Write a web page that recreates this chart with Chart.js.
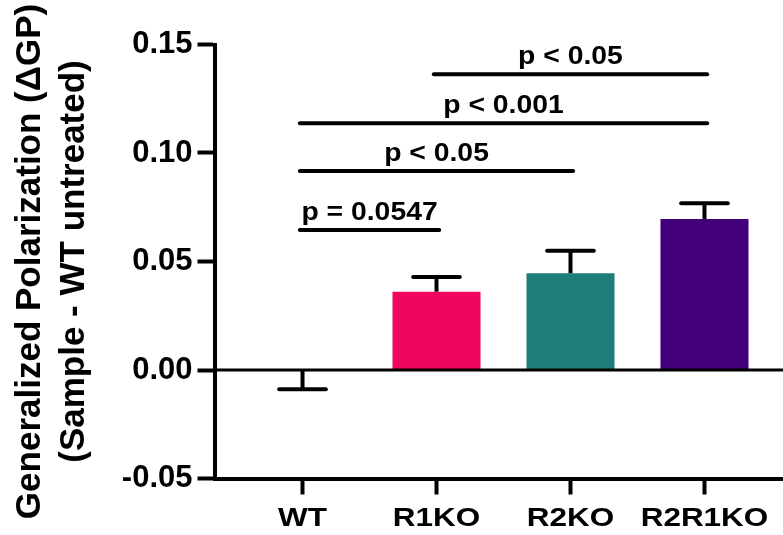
<!DOCTYPE html>
<html><head><meta charset="utf-8">
<script src="https://cdn.jsdelivr.net/npm/chart.js@4"></script>
<style>html,body{margin:0;padding:0;background:#fff;}canvas{display:block}</style>
</head><body>
<canvas id="c" width="783" height="535"></canvas>
<script>
const categories = ['WT', 'R1KO', 'R2KO', 'R2R1KO'];
const means = [0, 0.0361, 0.0446, 0.0696];
const sems = [0.0089, 0.0068, 0.0104, 0.0072];
const barColors = ['#FFFFFF', '#F0055F', '#1F7E7B', '#41007A'];
const yTicks = [-0.05, 0, 0.05, 0.10, 0.15];
const sigFrom = [0, 0, 0, 1];
const sigTo = [1, 2, 3, 3];
const sigY = [0.0645, 0.0917, 0.1137, 0.1363];
const sigLabels = ['p = 0.0547', 'p < 0.05', 'p < 0.001', 'p < 0.05'];
const yTitle = ['Generalized Polarization (\u0394GP)', '(Sample - WT untreated)'];

const FONT = '"Liberation Sans", Arial, Helvetica, sans-serif';

function stretchText(ctx, text, x, y, size, sx) {
  ctx.save();
  ctx.font = 'bold ' + size + 'px ' + FONT;
  ctx.translate(x, y);
  ctx.scale(sx, 1);
  ctx.textAlign = 'center';
  ctx.textBaseline = 'alphabetic';
  ctx.fillStyle = '#000';
  ctx.fillText(text, 0, 0);
  ctx.restore();
}

const overlay = {
  id: 'overlay',
  afterDatasetsDraw(chart) {
    const { ctx, chartArea, scales } = chart;
    const xs = scales.x, ys = scales.y;
    ctx.save();
    // zero line
    const y0 = ys.getPixelForValue(0);
    ctx.strokeStyle = '#000';
    ctx.lineWidth = 3;
    ctx.lineCap = 'butt';
    ctx.beginPath();
    ctx.moveTo(chartArea.left, y0);
    ctx.lineTo(chartArea.right, y0);
    ctx.stroke();
    // error bars
    const meta = chart.getDatasetMeta(0);
    ctx.lineWidth = 4;
    meta.data.forEach((bar, i) => {
      const dir = means[i] > 0 ? 1 : -1;
      const yA = ys.getPixelForValue(means[i]);
      const yB = ys.getPixelForValue(means[i] + dir * sems[i]);
      const cx = bar.x;
      const hw = bar.width * 0.265;
      ctx.lineCap = 'butt';
      ctx.beginPath(); ctx.moveTo(cx, yA); ctx.lineTo(cx, yB); ctx.stroke();
      ctx.lineCap = 'round';
      ctx.beginPath(); ctx.moveTo(cx - hw, yB); ctx.lineTo(cx + hw, yB); ctx.stroke();
    });
    // significance brackets
    ctx.lineWidth = 4;
    ctx.lineCap = 'round';
    sigLabels.forEach((lab, i) => {
      const xa = xs.getPixelForValue(sigFrom[i] - 0.02);
      const xb = xs.getPixelForValue(sigTo[i] + 0.02);
      const yy = ys.getPixelForValue(sigY[i]);
      ctx.beginPath(); ctx.moveTo(xa, yy); ctx.lineTo(xb, yy); ctx.stroke();
      stretchText(ctx, lab, (xa + xb) / 2, yy - 10.5, 26, 1.09);
    });
    // category labels
    categories.forEach((c, i) => {
      stretchText(ctx, c, xs.getPixelForValue(i), xs.bottom - 9, 26, 1.21);
    });
    ctx.restore();
  }
};

new Chart(document.getElementById('c'), {
  type: 'bar',
  data: {
    datasets: [{
      data: means.map((m, i) => ({ x: i, y: m })),
      backgroundColor: barColors,
      borderWidth: 0,
      barPercentage: 0.657,
      categoryPercentage: 1
    }]
  },
  options: {
    responsive: false,
    animation: false,
    devicePixelRatio: 1,
    layout: { padding: { top: 44.5, right: 0, bottom: 0, left: 0 } },
    plugins: { legend: { display: false }, tooltip: { enabled: false } },
    scales: {
      x: {
        type: 'linear',
        offset: false,
        min: -0.657,
        max: 3.586,
        afterBuildTicks: (s) => { s.ticks = categories.map((c, i) => ({ value: i })); },
        afterFit: (s) => { s.height = 56.5; },
        ticks: {
          autoSkip: false,
          maxRotation: 0,
          color: 'rgba(0,0,0,0)',
          font: { family: FONT, size: 26, weight: 'bold' },
          callback: (v) => categories[v] ?? ''
        },
        grid: { offset: false, drawOnChartArea: false, drawTicks: true, tickLength: 16, tickWidth: 4, tickColor: '#000' },
        border: { display: true, color: '#000', width: 4 }
      },
      y: {
        min: -0.05,
        max: 0.15,
        afterBuildTicks: (s) => { s.ticks = yTicks.map(v => ({ value: v })); },
        afterFit: (s) => { s.width = 214.5; },
        ticks: {
          color: '#000',
          padding: 5,
          font: { family: FONT, size: 31, weight: 'bold' },
          callback: (v) => Number(v).toFixed(2)
        },
        grid: { drawOnChartArea: false, drawTicks: true, tickLength: 17, tickWidth: 4, tickColor: '#000' },
        border: { display: true, color: '#000', width: 4 },
        title: {
          display: true,
          text: yTitle,
          color: '#000',
          font: { family: FONT, size: 35, weight: 'bold', lineHeight: 1.257 },
          padding: { top: 8, bottom: 0 }
        }
      }
    }
  },
  plugins: [overlay]
});
</script>
</body></html>
